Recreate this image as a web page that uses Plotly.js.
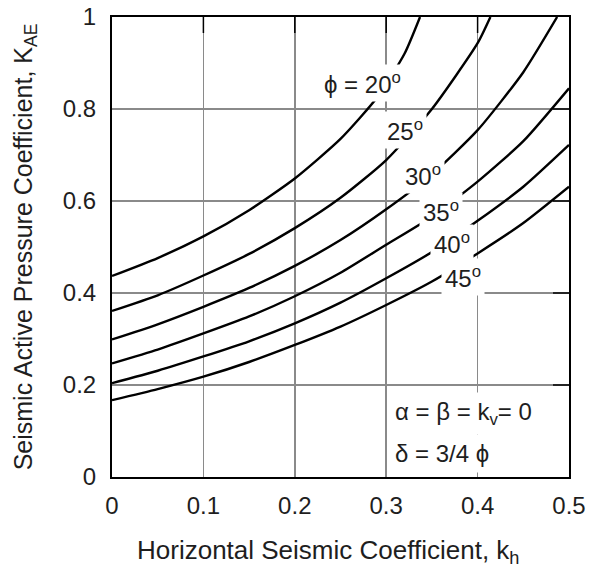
<!DOCTYPE html>
<html>
<head>
<meta charset="utf-8">
<script src="https://cdn.plot.ly/plotly-3.0.1.min.js"></script>
<style>html,body{margin:0;padding:0;background:#fff;}#chart{width:589px;height:570px;}</style>
</head>
<body>
<div id="chart"></div>
<script>
// Friction angles (degrees)
const phiValues = [20, 25, 30, 35, 40, 45];

// Horizontal seismic coefficient k_h and K_AE
const kh20 = [0, 0.05, 0.1, 0.15, 0.2, 0.25, 0.29, 0.32, 0.337];
const kae20 = [0.437, 0.476, 0.523, 0.580, 0.649, 0.735, 0.825, 0.920, 1.0];

const kh25 = [0, 0.05, 0.1, 0.15, 0.2, 0.25, 0.3, 0.35, 0.4, 0.414];
const kae25 = [0.361, 0.395, 0.438, 0.485, 0.541, 0.607, 0.689, 0.800, 0.943, 1.0];

const kh30 = [0, 0.05, 0.1, 0.15, 0.2, 0.25, 0.3, 0.35, 0.4, 0.45, 0.487];
const kae30 = [0.299, 0.332, 0.370, 0.411, 0.459, 0.515, 0.582, 0.658, 0.754, 0.880, 1.0];

const kh35 = [0, 0.05, 0.1, 0.15, 0.2, 0.25, 0.3, 0.35, 0.4, 0.45, 0.5];
const kae35 = [0.247, 0.277, 0.312, 0.349, 0.393, 0.444, 0.505, 0.566, 0.642, 0.730, 0.845];

const kh40 = [0, 0.05, 0.1, 0.15, 0.2, 0.25, 0.3, 0.35, 0.4, 0.45, 0.5];
const kae40 = [0.204, 0.231, 0.262, 0.295, 0.334, 0.379, 0.432, 0.489, 0.557, 0.631, 0.722];

const kh45 = [0, 0.05, 0.1, 0.15, 0.2, 0.25, 0.3, 0.35, 0.4, 0.45, 0.5];
const kae45 = [0.167, 0.191, 0.218, 0.250, 0.287, 0.327, 0.374, 0.425, 0.486, 0.552, 0.631];

const xTicks = [0, 0.1, 0.2, 0.3, 0.4, 0.5];
const xTickText = ['0', '0.1', '0.2', '0.3', '0.4', '0.5'];
const yTicks = [0, 0.2, 0.4, 0.6, 0.8, 1];
const yTickText = ['0', '0.2', '0.4', '0.6', '0.8', '1'];

const curveLabels = ['\u03d5 = 20<sup>o</sup>', '25<sup>o</sup>', '30<sup>o</sup>', '35<sup>o</sup>', '40<sup>o</sup>', '45<sup>o</sup>'];
const noteLines = ['\u03b1 = \u03b2 = k<sub>v</sub>= 0', '\u03b4 = 3/4 \u03d5'];
const xTitle = 'Horizontal Seismic Coefficient, k<sub>h</sub>';
const yTitle = 'Seismic Active Pressure Coefficient, K<sub>AE</sub>';

const xs = [kh20, kh25, kh30, kh35, kh40, kh45];
const ys = [kae20, kae25, kae30, kae35, kae40, kae45];

const FONT = 'Liberation Sans, Arial, sans-serif';
const TXT = '#1e1e1e';

const traces = xs.map((x, i) => ({
  x: x, y: ys[i], type: 'scatter', mode: 'lines',
  name: '\u03c6 = ' + phiValues[i],
  line: {color: '#000', width: 2.4, shape: 'spline', smoothing: 0.6},
  hoverinfo: 'skip', showlegend: false
}));

const labelPos = [[0.2746, 0.857], [0.3206, 0.754], [0.3403, 0.657], [0.360, 0.578], [0.372, 0.509], [0.384, 0.435]];
const annotations = curveLabels.map((t, i) => ({
  x: labelPos[i][0], y: labelPos[i][1], xref: 'x', yref: 'y',
  text: t, showarrow: false, bgcolor: '#fff', borderpad: 3,
  font: {family: FONT, size: 24, color: TXT}
}));
annotations.push({
  x: 0.303, y: 0.139, xref: 'x', yref: 'y', xanchor: 'left',
  text: noteLines[0], showarrow: false, bgcolor: '#fff', borderpad: 5,
  font: {family: FONT, size: 24, color: TXT}
});
annotations.push({
  x: 0.303, y: 0.052, xref: 'x', yref: 'y', xanchor: 'left',
  text: noteLines[1], showarrow: false, bgcolor: '#fff', borderpad: 5,
  font: {family: FONT, size: 24, color: TXT}
});
// x-axis title (slightly left of the plot centre, as in the original)
annotations.push({
  x: 0.4716, y: -0.163, xref: 'paper', yref: 'paper', xanchor: 'center', yanchor: 'middle',
  text: xTitle, showarrow: false,
  font: {family: FONT, size: 26, color: TXT}
});

// Inward tick marks on the top and right borders
const PLOT_W = 589 - 112 - 20, PLOT_H = 570 - 17 - 93, TICKLEN = 16;
const shapes = [];
xTicks.slice(1, -1).forEach(t => shapes.push({
  type: 'line', xref: 'x', yref: 'paper', x0: t, x1: t, y0: 1, y1: 1 - TICKLEN / PLOT_H,
  line: {color: '#000', width: 1.5}, layer: 'above'
}));
yTicks.slice(1, -1).forEach(t => shapes.push({
  type: 'line', xref: 'paper', yref: 'y', x0: 1, x1: 1 - TICKLEN / PLOT_W, y0: t, y1: t,
  line: {color: '#000', width: 1.5}, layer: 'above'
}));

const layout = {
  width: 589, height: 570,
  margin: {l: 112, r: 20, t: 17, b: 93},
  paper_bgcolor: '#fff', plot_bgcolor: '#fff',
  showlegend: false,
  font: {family: FONT, color: TXT},
  xaxis: {
    range: [0, 0.5], tickmode: 'array', tickvals: xTicks, ticktext: xTickText,
    showgrid: true, gridcolor: '#8a8a8a', gridwidth: 1.5, zeroline: false,
    showline: true, mirror: true, linecolor: '#000', linewidth: 2,
    ticks: '', ticklabelstandoff: 6,
    tickfont: {family: FONT, size: 24, color: TXT},
    fixedrange: true
  },
  yaxis: {
    range: [0, 1], tickmode: 'array', tickvals: yTicks, ticktext: yTickText,
    showgrid: true, gridcolor: '#8a8a8a', gridwidth: 1.5, zeroline: false,
    showline: true, mirror: true, linecolor: '#000', linewidth: 2,
    ticks: '', ticklabelstandoff: 9,
    tickfont: {family: FONT, size: 24, color: TXT},
    title: {text: yTitle, standoff: 23,
            font: {family: FONT, size: 25, color: TXT}},
    fixedrange: true
  },
  shapes: shapes,
  annotations: annotations
};

Plotly.newPlot('chart', traces, layout, {displayModeBar: false, staticPlot: true});
</script>
</body>
</html>
